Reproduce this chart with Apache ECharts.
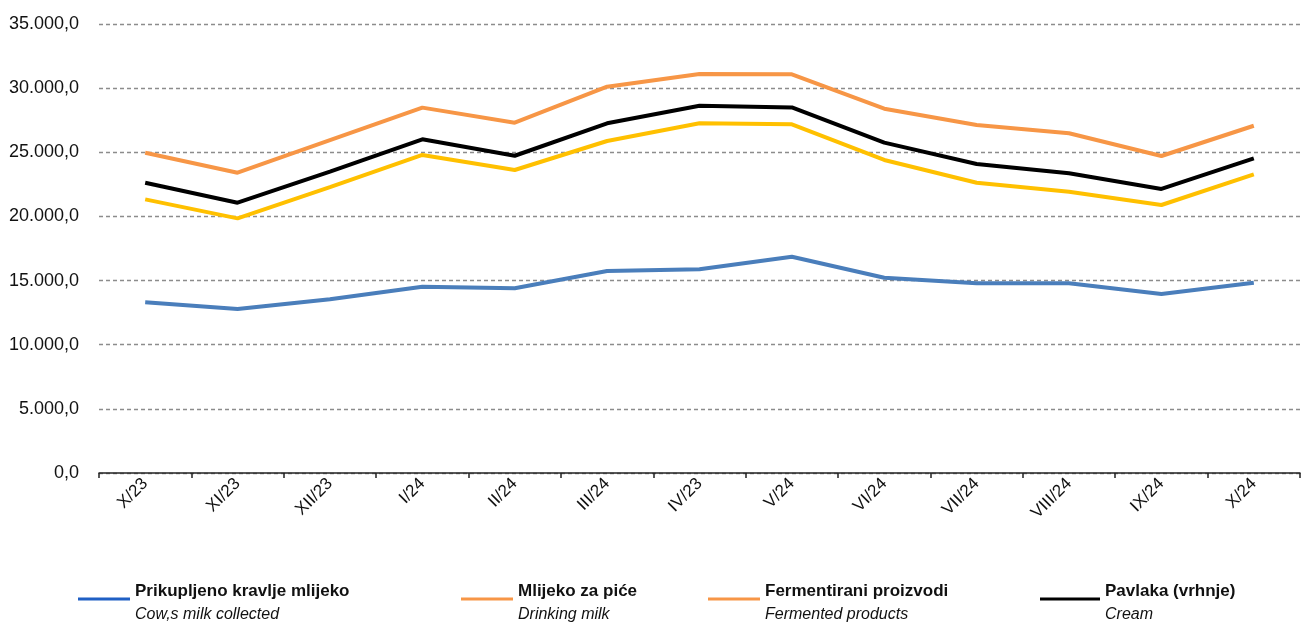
<!DOCTYPE html>
<html>
<head>
<meta charset="utf-8">
<script src="https://cdn.jsdelivr.net/npm/echarts@6/dist/echarts.min.js"></script>
<style>
  html, body { margin: 0; padding: 0; background: #fff; }
  #chart { width: 1301px; height: 628px; }
</style>
</head>
<body>
<div id="chart"></div>
<script>
const months = ['X/23', 'XI/23', 'XII/23', 'I/24', 'II/24', 'III/24', 'IV/23', 'V/24', 'VI/24', 'VII/24', 'VIII/24', 'IX/24', 'X/24'];

// Prikupljeno kravlje mlijeko
const milkCollected = [13310, 12780, 13540, 14520, 14400, 15750, 15880, 16860, 15220, 14790, 14790, 13950, 14830];
// Mlijeko za piće
const drinkingMilk = [24970, 23410, 25950, 28480, 27310, 30110, 31100, 31080, 28400, 27130, 26480, 24710, 27070];
// Pavlaka (vrhnje)
const cream = [22630, 21070, 23500, 26010, 24730, 27260, 28630, 28500, 25750, 24090, 23360, 22140, 24530];
// Fermentirani proizvodi
const fermented = [21330, 19850, 22290, 24790, 23620, 25880, 27260, 27180, 24400, 22630, 21930, 20890, 23280];

const FONT = '"Liberation Sans", Arial, sans-serif';

// 35000 -> "35.000,0"
const fmtNum = v => {
  const s = Math.round(v).toString().replace(/\B(?=(\d{3})+(?!\d))/g, '.');
  return s + ',0';
};

const chart = echarts.init(document.getElementById('chart'));

const lineSeries = (name, data, color) => ({
  name,
  type: 'line',
  data,
  showSymbol: false,
  symbol: 'none',
  lineStyle: { width: 4, color },
  itemStyle: { color },
  animation: false
});

// legenda: dva reda (lokalni naziv + engleski)
const legendItem = (left, name, en, color, width) => ({
  left,
  top: 582,
  padding: 0,
  orient: 'horizontal',
  icon: 'rect',
  itemWidth: width,
  itemHeight: 3,
  itemGap: 0,
  data: [{ name, itemStyle: { color }, lineStyle: { color } }],
  formatter: n => '{b|' + n + '}\n{i|' + en + '}',
  textStyle: {
    rich: {
      b: { fontFamily: FONT, fontWeight: 'bold', fontSize: 17, color: '#111', lineHeight: 24, padding: [1, 0, 0, 0] },
      i: { fontFamily: FONT, fontStyle: 'italic', fontSize: 16, color: '#111', lineHeight: 16, padding: [8, 0, 0, 0] }
    }
  }
});

const option = {
  backgroundColor: '#ffffff',
  animation: false,
  grid: { left: 99, right: 1, top: 24, bottom: 155 },
  xAxis: {
    type: 'category',
    data: months,
    boundaryGap: true,
    axisLine: { lineStyle: { color: '#222', width: 1.5 } },
    axisTick: { show: true, length: 5, lineStyle: { color: '#222', width: 1.5 } },
    axisLabel: {
      rotate: 45,
      margin: 8,
      fontFamily: FONT,
      fontSize: 17,
      color: '#111'
    }
  },
  yAxis: {
    type: 'value',
    min: 0,
    max: 35000,
    interval: 5000,
    axisLine: { show: false },
    axisTick: { show: false },
    axisLabel: {
      margin: 20,
      fontFamily: FONT,
      fontSize: 18,
      color: '#111',
      formatter: v => fmtNum(v)
    },
    splitLine: {
      show: true,
      lineStyle: { color: '#8c8c8c', width: 1.3, type: [4, 3] }
    }
  },
  legend: [
    legendItem(78, 'Prikupljeno kravlje mlijeko', 'Cow,s milk collected', '#1f5fc4', 52),
    legendItem(461, 'Mlijeko za piće', 'Drinking milk', '#f79646', 52),
    legendItem(708, 'Fermentirani proizvodi', 'Fermented products', '#f79646', 52),
    legendItem(1040, 'Pavlaka (vrhnje)', 'Cream', '#000000', 60)
  ],
  series: [
    lineSeries('Prikupljeno kravlje mlijeko', milkCollected, '#4a7ebb'),
    lineSeries('Mlijeko za piće', drinkingMilk, '#f79646'),
    lineSeries('Pavlaka (vrhnje)', cream, '#000000'),
    lineSeries('Fermentirani proizvodi', fermented, '#ffc000')
  ]
};

chart.setOption(option);
</script>
</body>
</html>
